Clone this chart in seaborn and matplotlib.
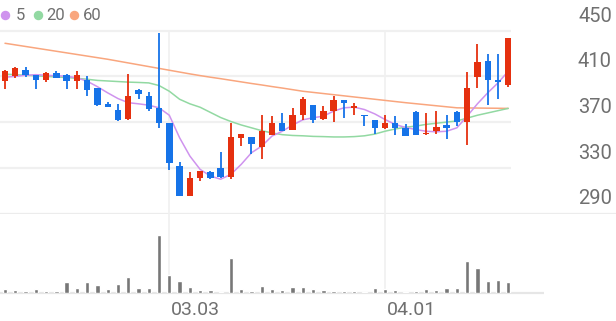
import numpy as np
import pandas as pd
import matplotlib
matplotlib.use("Agg")
import matplotlib.pyplot as plt
from matplotlib.lines import Line2D
import seaborn as sns

# ---------------- data ----------------
opens = [406, 410, 416, 411, 407, 413, 411.5, 406, 407, 399.5,
         386, 381, 372.5, 398.5, 392.5, 382.5, 369, 331.5, 305.5, 321,
         326.5, 329.5, 322, 356.5, 357, 348, 359, 369.5, 363.5, 376,
         385, 372.5, 380, 389, 382.5, 376.6, 371.5, 364.5, 369.5, 365,
         379, 359.2, 362, 367.4, 378.7, 370, 409.6, 423.3, 406.7, 402.8]
closes = [414.5, 417, 411, 407, 413, 409, 406, 411.5, 398, 385,
          383, 371.5, 392.5, 395, 381.5, 369, 334.5, 305.5, 321, 327,
          321, 322, 357, 360, 351, 362.5, 369.5, 362, 376, 390,
          372, 379.5, 389, 387, 383.8, 375.5, 364.5, 369.5, 364.5, 358,
          359, 360.7, 366, 364.4, 370, 400, 422.4, 406.7, 405, 443.6]
highs = [416, 418, 418, 411.5, 414, 414.5, 412, 415, 410, 400,
         388, 386, 412.5, 399, 396.5, 448, 369, 335, 326.5, 327,
         327, 344, 369, 360, 357, 376, 375, 378, 382, 392,
         385, 384, 393, 389.5, 387, 376.6, 372, 376.5, 375, 368,
         379.5, 378, 379.5, 376, 379.5, 413.5, 438, 429.6, 429.6, 444]
lows = [399, 409, 409.5, 399, 405, 408.5, 399, 399, 392.5, 384.5,
        383, 371, 371.5, 390, 379.5, 365, 328.5, 305, 305, 318.5,
        320, 321, 320, 349, 342, 337.5, 359, 362, 363, 371.5,
        369.5, 372, 370, 374, 376.5, 367, 360, 364, 358.5, 358,
        358.5, 359, 360, 355, 367, 350, 400, 385, 390, 400.5]
ma5 = [409.3, 410, 411, 411.5, 411, 410.5, 410.2, 408.7, 405.8, 401,
       395.6, 390.6, 387, 386, 384.8, 382.5, 376, 356.3, 340.3, 328.6,
       322.8, 320, 324.3, 333, 343.2, 349, 357.8, 362, 367.4, 372,
       373.8, 375.2, 379.6, 382.5, 383.1, 381, 377.2, 372.3, 367.9, 365.3,
       363.5, 362, 361.5, 362, 365, 375.2, 386, 395.6, 404.3, 414.5]
ma20 = [412, 411.5, 411, 410.5, 410, 409.5, 409, 408.3, 407.5, 406.5,
        406, 405.5, 405, 404.7, 404.3, 402, 397, 390, 386, 383,
        378.5, 374, 370.5, 367.5, 365, 362.5, 360.5, 359, 358.3, 358,
        357.5, 357.3, 357, 357, 357.3, 358, 359.5, 362, 364, 365.5,
        366.5, 368, 369, 370, 371, 373.5, 376, 378, 380, 382]
ma60 = [439, 437.6, 436.2, 434.8, 433.4, 432, 430.6, 429.2, 427.8, 426.4,
        425, 423.4, 421.8, 420.2, 418.6, 417, 415.4, 413.8, 412.2, 410.7,
        409.3, 408, 406.6, 405.2, 403.8, 402.5, 401.1, 399.8, 398.4, 397,
        396, 395, 394, 393, 392, 391, 390, 389, 388, 387,
        386.1, 385.2, 384.3, 383.4, 382.5, 382.4, 382.3, 382.2, 382.1, 382]
volumes = [4, 3.3, 2.3, 4, 2.3, 2, 11, 5, 11, 8.3,
           4.7, 9.7, 16.3, 5, 5, 58, 18.3, 12, 6.3, 3.7,
           3.7, 1.7, 35.7, 4, 2.5, 7.7, 4, 3, 6.7, 6,
           4.3, 3.7, 2.7, 2, 2, 1.7, 5.7, 4, 3, 1.7,
           2, 4, 3.7, 5, 5.3, 32.7, 25, 12.3, 13, 11.7]
price_ticks = [290, 330, 370, 410, 450]
date_ticks = [16, 37]
date_labels = ["03.03", "04.01"]
ma_names = ["5", "20", "60"]

# ---------------- style ----------------
sns.set_theme(style="white")
plt.rcParams["font.family"] = ["Roboto", "DejaVu Sans"]

UP = "#e5300f"
DOWN = "#1673e8"
MA_COLORS = ["#cf93ee", "#92d9a2", "#f9a67e"]
TXT = "#707070"
GRID = "#f0f0f0"

W, H = 616, 321
fig = plt.figure(figsize=(W / 100, H / 100), dpi=100)

n = len(opens)
idx = np.arange(n)
step = 10.27
x0 = -5 / step
x1 = (W - 5) / step

# price panel: 450 grid at y=30.7px, 290 grid (bottom) at 213.5px
px_per = 45.7 / 40.0
ytop = 290 + 213.5 / px_per
axp = fig.add_axes([0, (H - 213.5) / H, 1, 213.5 / H])
axp.set_xlim(x0, x1)
axp.set_ylim(290, ytop)
axp.axis("off")

for v in price_ticks[1:]:
    axp.hlines(v, x0, 49.3, color=GRID, lw=1.6, zorder=0)
axp.axhline(290, color="#ececec", lw=1.6, zorder=0)
for d in date_ticks:
    axp.vlines(d, 290, 450, color=GRID, lw=1.2, zorder=0)

df = pd.DataFrame({"i": idx, "o": opens, "c": closes, "h": highs, "l": lows,
                   "ma5": ma5, "ma20": ma20, "ma60": ma60, "vol": volumes})
colors = [UP if c >= o else DOWN for o, c in zip(opens, closes)]

# moving averages
for col, colr in zip(["ma60", "ma20", "ma5"], MA_COLORS[::-1]):
    sns.lineplot(data=df, x="i", y=col, ax=axp, color=colr, lw=1.1, zorder=2)
axp.axis("off")
axp.set_xlim(x0, x1)
axp.set_ylim(290, ytop)

# candles
axp.vlines(idx, lows, highs, colors=colors, lw=1.3, zorder=3)
bottoms = [min(o, c) for o, c in zip(opens, closes)]
heights = [max(abs(c - o), 1.0) for o, c in zip(opens, closes)]
axp.bar(idx, heights, bottom=bottoms, width=0.62, color=colors, zorder=4, linewidth=0)

# right price labels
for v in price_ticks:
    axp.annotate(str(v), xy=(1, v), xycoords=("axes fraction", "data"),
                 xytext=(-4, 5), textcoords="offset pixels",
                 ha="right", va="bottom", fontsize=14.5, color=TXT)

# volume panel
vb = 293.3
axv = fig.add_axes([0, (H - vb) / H, 1, (vb - 213.5) / H])
vmax = max(volumes) * (vb - 213.5) / 58.0
sns.barplot(x=idx, y=volumes, ax=axv, native_scale=True, color="#777777",
            width=0.42, saturation=1, zorder=3)
axv.set_xlim(x0, x1)
axv.set_ylim(0, vmax)
axv.axis("off")
for d in date_ticks:
    axv.axvline(d, color=GRID, lw=1.2, zorder=0)
axv.hlines(0, x0, 52.5, color="#e6e6e6", lw=1.6, zorder=1, clip_on=False)

for d, lab in zip(date_ticks, date_labels):
    axv.annotate(lab, xy=(d, 0), xycoords=("data", "axes fraction"),
                 xytext=(2, -17), textcoords="offset pixels",
                 ha="left", va="center", fontsize=14, color=TXT,
                 annotation_clip=False)

# legend
leg_x = [5, 37.7, 74]
txt_x = [16, 46, 82.5]
for cx, tx, colr, name in zip(leg_x, txt_x, MA_COLORS, ma_names):
    fig.add_artist(Line2D([cx / W], [1 - 15 / H], marker="o", markersize=5.8,
                          color=colr, transform=fig.transFigure, linestyle=""))
    fig.text(tx / W, 1 - 15 / H, name, ha="left", va="center",
             fontsize=12, color=TXT)

fig.savefig("out.png", dpi=100)
